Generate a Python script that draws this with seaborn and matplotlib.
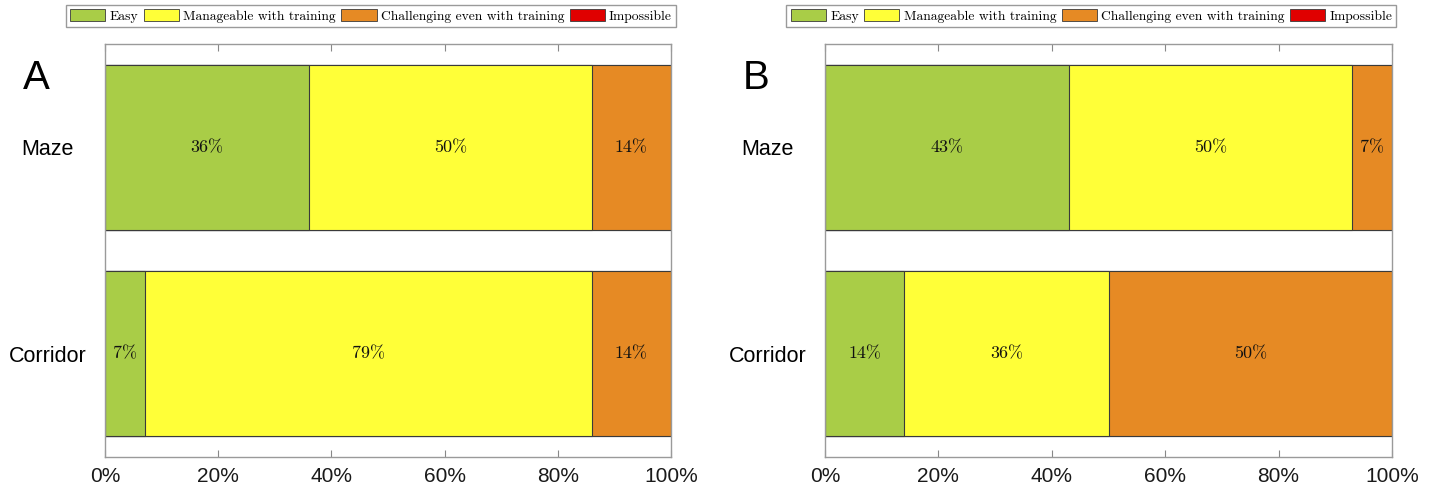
import pandas as pd
import matplotlib.pyplot as plt
import matplotlib.patches as mpatches
import seaborn as sns

# Data (percent of participants)
tasks = ['Maze', 'Corridor']
levels = ['Easy', 'Manageable with training', 'Challenging even with training', 'Impossible']
colors = ['#A9CD47', '#FFFF38', '#E68A24', '#E00000']

panel_a = {
    'Easy': [36, 7],
    'Manageable with training': [50, 79],
    'Challenging even with training': [14, 14],
    'Impossible': [0, 0],
}
panel_b = {
    'Easy': [43, 14],
    'Manageable with training': [50, 36],
    'Challenging even with training': [7, 50],
    'Impossible': [0, 0],
}
tick_vals = [0, 20, 40, 60, 80, 100]
tick_labels = ['0%', '20%', '40%', '60%', '80%', '100%']

sns.set_style('white')
plt.rcParams['font.family'] = ['Liberation Sans', 'DejaVu Sans']
plt.rcParams['text.color'] = 'black'
plt.rcParams['xtick.labelcolor'] = '#1a1a1a'
plt.rcParams['ytick.labelcolor'] = 'black'

fig = plt.figure(figsize=(14.34, 4.84), dpi=100)
W, H = 1434, 484
ax_a = fig.add_axes([105 / W, (H - 457) / H, 566 / W, 413 / H])
ax_b = fig.add_axes([825 / W, (H - 457) / H, 567 / W, 413 / H])

edge = '#3a3a3a'
serif = 'cmr10'


def draw_panel(ax, data, letter, letter_x):
    df = pd.DataFrame(data, index=tasks)
    cum = df.cumsum(axis=1)
    # draw cumulative bars from the last level backwards so they stack visually
    for lvl, col in reversed(list(zip(levels, colors))):
        sub = pd.DataFrame({'task': tasks, 'value': cum[lvl].values})
        sns.barplot(data=sub, x='value', y='task', orient='h', color=col,
                    saturation=1, width=0.8, edgecolor=edge, linewidth=0.8, ax=ax)
    # percentage labels
    for i, t in enumerate(tasks):
        for lvl in levels:
            v = df.loc[t, lvl]
            if v > 0:
                center = cum.loc[t, lvl] - v / 2
                ax.text(center, i, f'{v}%', ha='center', va='center',
                        fontsize=13, family=serif, color='#111111')
    ax.set_xlim(0, 100)
    ax.set_ylim(1.5, -0.5)
    ax.set_xticks(tick_vals)
    ax.set_xticklabels(tick_labels, fontsize=15)
    ax.set_xlabel('')
    ax.set_ylabel('')
    ax.tick_params(axis='x', direction='in', length=5, top=True, bottom=True,
                   color='#888888', pad=7)
    ax.tick_params(axis='y', length=0, labelsize=15.5, pad=41.4)
    for lab in ax.get_yticklabels():
        lab.set_horizontalalignment('center')
    for s in ax.spines.values():
        s.set_visible(True)
        s.set_color('#9a9a9a')
        s.set_linewidth(1.0)
    handles = [mpatches.Patch(facecolor=c, edgecolor=edge, linewidth=0.6) for c in colors]
    ax.legend(handles, levels, ncol=4, loc='center', bbox_to_anchor=(0.47, 1.068),
              prop={'family': serif, 'size': 9.8}, handlelength=2.6, handleheight=1.0,
              columnspacing=0.4, handletextpad=0.3, borderpad=0.3,
              fancybox=False, edgecolor='#9a9a9a', framealpha=1)
    fig.text(letter_x / W, 1 - 78 / H, letter, fontsize=29, ha='center', va='center')


draw_panel(ax_a, panel_a, 'A', 36)
draw_panel(ax_b, panel_b, 'B', 756)

plt.savefig('out.png', dpi=100)
